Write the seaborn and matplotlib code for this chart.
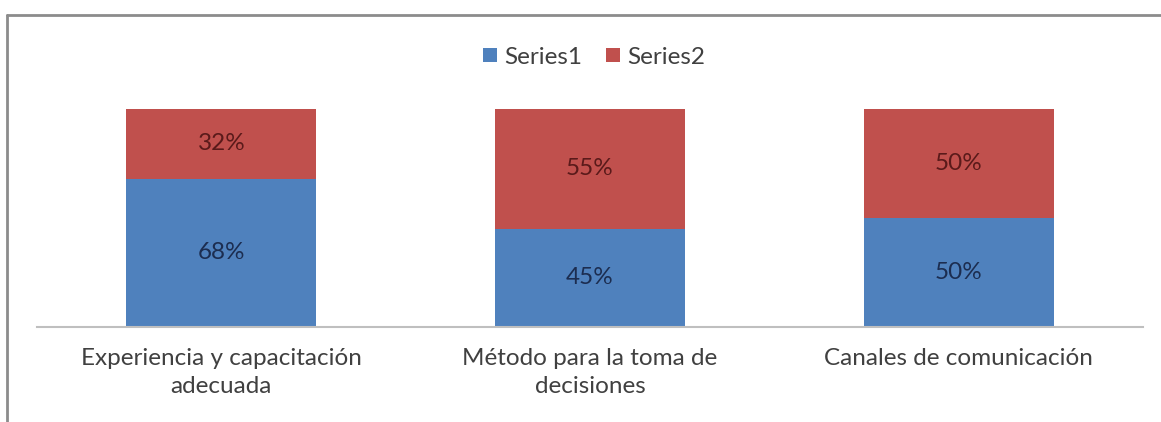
import matplotlib
matplotlib.use("Agg")
import matplotlib.pyplot as plt
import seaborn as sns
import pandas as pd
from matplotlib.patches import Patch
from matplotlib.lines import Line2D

categories = ["Experiencia y capacitación\nadecuada", "Método para la toma de\ndecisiones", "Canales de comunicación"]
series1 = [68, 45, 50]
series2 = [32, 55, 50]
series_names = ["Series1", "Series2"]

BLUE = "#4F81BD"
RED = "#C0504D"

sns.set_theme(style="white")
plt.rcParams["font.family"] = ["Lato", "DejaVu Sans"]

df = pd.DataFrame({"cat": categories, "s1": series1, "s2": series2})
df["total"] = df["s1"] + df["s2"]

fig = plt.figure(figsize=(11.61, 4.22), dpi=100)
ax = fig.add_axes([37 / 1161, 1 - 327 / 422, (1143 - 37) / 1161, (327 - 109) / 422])

sns.barplot(data=df, x="cat", y="total", color=RED, width=0.515, ax=ax, saturation=1, edgecolor="none", linewidth=0)
sns.barplot(data=df, x="cat", y="s1", color=BLUE, width=0.515, ax=ax, saturation=1, edgecolor="none", linewidth=0)

for i, (a, b) in enumerate(zip(series1, series2)):
    ax.text(i, a / 2, f"{a}%", ha="center", va="center", fontsize=17.5, color="#1c2d50")
    ax.text(i, a + b / 2, f"{b}%", ha="center", va="center", fontsize=17.5, color="#5a1a1a")

ax.set_ylim(0, 100)
ax.set_xlim(-0.5, 2.5)
ax.set_xlabel("")
ax.set_ylabel("")
ax.set_yticks([])
for s in ["top", "left", "right"]:
    ax.spines[s].set_visible(False)
ax.spines["bottom"].set_color("#BFBFBF")
ax.spines["bottom"].set_linewidth(1.5)
ax.tick_params(axis="x", length=0, pad=15, labelsize=17.5, labelcolor="#404040")
for t in ax.get_xticklabels():
    t.set_linespacing(1.45)

handles = [Patch(facecolor=BLUE, edgecolor="none"), Patch(facecolor=RED, edgecolor="none")]
fig.legend(handles, series_names, loc="center", bbox_to_anchor=(594 / 1161, 1 - 57 / 422), ncol=2,
           frameon=False, fontsize=17.5, handlelength=0.55, handleheight=0.55, handletextpad=0.3,
           columnspacing=1.0, labelcolor="#404040")

fig.add_artist(Line2D([7 / 1161, 1.0], [1 - 15 / 422, 1 - 15 / 422], color="#8c8c8c", lw=2, transform=fig.transFigure))
fig.add_artist(Line2D([7 / 1161, 7 / 1161], [0, 1 - 15 / 422], color="#8c8c8c", lw=2, transform=fig.transFigure))

fig.savefig("out.png", dpi=100, facecolor="white")
